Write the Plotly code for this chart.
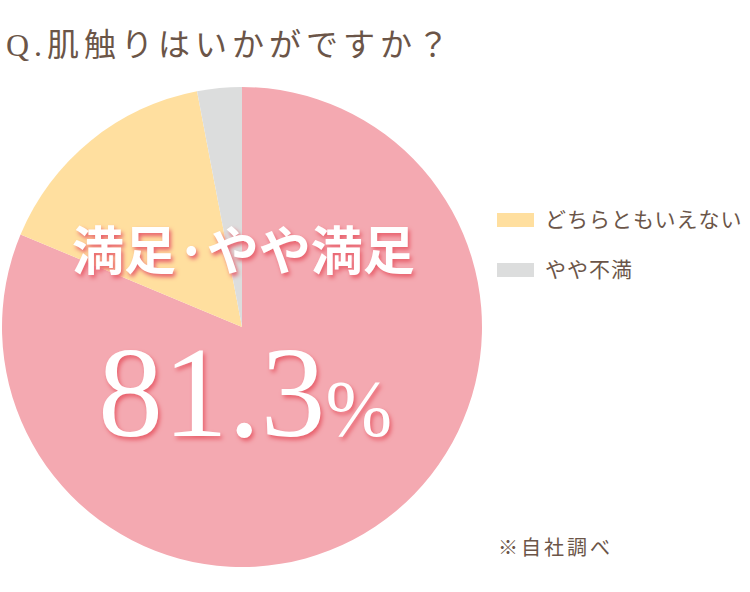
import plotly.graph_objects as go

categories = ["満足・やや満足", "どちらともいえない", "やや不満"]
values = [81.3, 15.7, 3.0]
colors = ["#F4A9B1", "#FFDF9F", "#DCDDDD"]
legend_items = ["どちらともいえない", "やや不満"]
legend_colors = ["#FFDF9F", "#DCDDDD"]
title_text = "Q.肌触りはいかがですか？"
main_label = "満足·やや満足"
main_value = "81.3"
note_text = "※自社調べ"

W, H = 750, 592
TXT = "#6B5548"
JP = "Noto Sans CJK JP, sans-serif"
SERIF = "Liberation Serif, Noto Sans CJK JP, serif"

fig = go.Figure()
fig.add_trace(go.Pie(
    labels=categories, values=values, sort=False, direction="clockwise",
    rotation=0, marker=dict(colors=colors, line=dict(width=0)),
    textinfo="none", hoverinfo="skip", showlegend=False,
    domain=dict(x=[2 / W, 482 / W], y=[1 - 567 / H, 1 - 87 / H]),
))

def px(x):
    return x / W

def py(y):
    return 1 - y / H

def spaced(t, s):
    return "<span style='letter-spacing:%dpx'>%s</span>" % (s, t)

ann = []
ann.append(dict(x=px(4), y=py(45), xref="paper", yref="paper", xanchor="left", yanchor="middle",
                text=spaced(title_text, 5), showarrow=False,
                font=dict(family=SERIF, size=32, color=TXT)))
ann.append(dict(x=px(243), y=py(248), xref="paper", yref="paper", xanchor="center", yanchor="middle",
                text=main_label, showarrow=False,
                font=dict(family=JP, size=52, color="white", weight=700,
                          shadow="2px 3px 4px #E8606C")))
ann.append(dict(x=px(245), y=py(392), xref="paper", yref="paper", xanchor="center", yanchor="middle",
                text=main_value + "<span style='font-size:80px'>%</span>", showarrow=False,
                font=dict(family=SERIF, size=130, color="white",
                          shadow="2px 3px 4px #E8606C")))
leg_y = [220, 270]
for name, col, yy in zip(legend_items, legend_colors, leg_y):
    fig.add_shape(type="rect", xref="paper", yref="paper",
                  x0=px(497), x1=px(534), y0=py(yy + 7), y1=py(yy - 7),
                  fillcolor=col, line=dict(width=0))
    ann.append(dict(x=px(543), y=py(yy), xref="paper", yref="paper", xanchor="left", yanchor="middle",
                    text=spaced(name, 1), showarrow=False,
                    font=dict(family=SERIF, size=21, color=TXT)))
ann.append(dict(x=px(496), y=py(548), xref="paper", yref="paper", xanchor="left", yanchor="middle",
                text=spaced(note_text, 3), showarrow=False,
                font=dict(family=SERIF, size=20, color=TXT)))

fig.update_layout(width=W, height=H, margin=dict(l=0, r=0, t=0, b=0),
                  paper_bgcolor="white", plot_bgcolor="white", annotations=ann)
fig.write_html("out.html", config={"displayModeBar": False},
               post_script="document.body.style.margin='0';")
